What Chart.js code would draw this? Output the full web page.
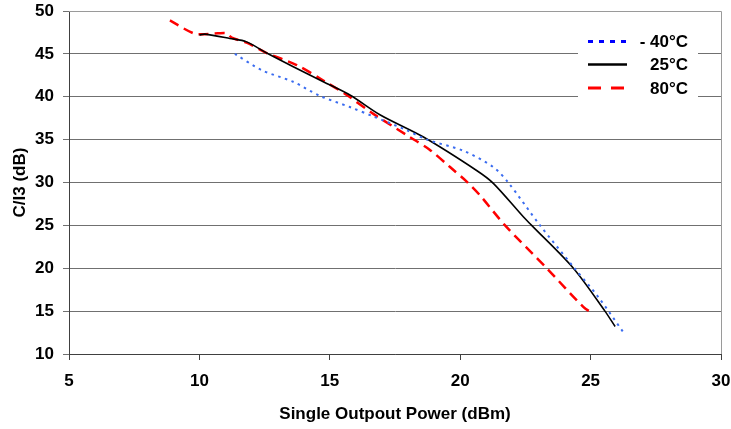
<!DOCTYPE html>
<html>
<head>
<meta charset="utf-8">
<script src="https://cdn.jsdelivr.net/npm/chart.js@4.4.1/dist/chart.umd.min.js"></script>
<style>
html,body{margin:0;padding:0;background:#fff;}
#wrap{width:731px;height:429px;position:relative;}
</style>
</head>
<body>
<div id="wrap"><canvas id="c" width="731" height="429"></canvas></div>
<script>
const seriesLabels = ['- 40°C', '25°C', '80°C'];
const xTicks = [5, 10, 15, 20, 25, 30];
const yTicks = [10, 15, 20, 25, 30, 35, 40, 45, 50];

const coldX = [11.36, 12.39, 13.59, 14.62, 15.77, 16.67, 17.95, 18.72, 20.12, 21.27, 21.84, 23.06, 24.33, 25.28, 26.24];
const coldY = [45.0, 43.1, 41.75, 40.1, 38.8, 37.7, 36.1, 35.0, 33.7, 31.8, 30.0, 25.0, 20.2, 16.7, 12.6];

const roomX = [10.0, 10.21, 11.17, 11.81, 12.58, 13.60, 14.75, 15.77, 16.92, 18.59, 20.63, 21.27, 22.42, 22.74, 24.34, 25.55, 25.94];
const roomY = [47.2, 47.3, 46.8, 46.4, 45.1, 43.5, 41.75, 40.2, 37.9, 35.3, 31.4, 29.9, 26.0, 25.0, 20.0, 15.0, 13.2];

const hotX = [8.87, 9.77, 10.21, 10.71, 11.05, 11.24, 11.81, 12.58, 13.73, 14.75, 15.65, 16.67, 18.07, 18.84, 19.61, 20.25, 20.76, 21.72, 23.32, 24.72, 25.1];
const hotY = [48.9, 47.4, 47.3, 47.4, 47.4, 46.9, 46.3, 45.1, 43.7, 41.9, 40.2, 38.0, 35.3, 33.8, 31.8, 30.1, 28.5, 25.0, 20.0, 15.5, 14.7];

function pts(xs, ys){ return xs.map((x,i)=>({x:x, y:ys[i]})); }

const FONT = "'Liberation Sans', Arial, sans-serif";

const styles = [
  {color:'#3a6cf0', legendColor:'#0000ff', dash:[2.5,4.5], width:2},
  {color:'#000000', legendColor:'#000000', dash:[], width:1.6},
  {color:'#ff0000', legendColor:'#ff0000', dash:[10,6], width:2.5}
];

const frameLegend = {
  id:'frameLegend',
  afterDatasetsDraw(chart){
    const {ctx, chartArea:a} = chart;
    ctx.save();
    ctx.strokeStyle = '#9a9a9a';
    ctx.lineWidth = 1;
    ctx.beginPath();
    ctx.moveTo(a.left, a.top + 0.5);
    ctx.lineTo(a.right + 0.5, a.top + 0.5);
    ctx.lineTo(a.right + 0.5, a.bottom);
    ctx.stroke();
    ctx.fillStyle = '#ffffff';
    ctx.fillRect(578, 27, 120, 73);
    const rows = [41.5, 64.5, 88];
    ctx.font = "bold 17px " + FONT;
    ctx.textAlign = 'right';
    ctx.textBaseline = 'middle';
    seriesLabels.forEach((lab, i)=>{
      const s = styles[i];
      ctx.strokeStyle = s.legendColor;
      ctx.lineWidth = i===1 ? 2.5 : 3;
      ctx.setLineDash(i===0 ? [5,6] : (i===2 ? [13,10] : []));
      ctx.beginPath();
      ctx.moveTo(588, rows[i]);
      ctx.lineTo(627, rows[i]);
      ctx.stroke();
      ctx.setLineDash([]);
      ctx.fillStyle = '#000';
      ctx.fillText(lab, 688, rows[i] + 1);
    });
    ctx.restore();
  }
};

new Chart(document.getElementById('c'), {
  type:'scatter',
  data:{
    datasets:[
      {label:seriesLabels[0], data:pts(coldX, coldY)},
      {label:seriesLabels[1], data:pts(roomX, roomY)},
      {label:seriesLabels[2], data:pts(hotX, hotY)}
    ].map((d,i)=>Object.assign(d, {
      showLine:true, pointRadius:0, borderColor:styles[i].color,
      borderDash:styles[i].dash, borderWidth:styles[i].width, tension:0.3, fill:false
    }))
  },
  options:{
    responsive:false, animation:false,
    layout:{padding:{top:11, right:10, left:0, bottom:0}},
    plugins:{legend:{display:false}, tooltip:{enabled:false}},
    scales:{
      x:{
        type:'linear', min:5, max:30,
        afterBuildTicks(ax){ ax.ticks = xTicks.map(v=>({value:v})); },
        afterFit(ax){ ax.height = 75; ax.paddingLeft = 0; ax.paddingRight = 0; },
        grid:{drawOnChartArea:false, drawTicks:true, tickLength:6, color:'#404040'},
        border:{color:'#404040', width:1},
        ticks:{color:'#000', font:{family:FONT, size:17, weight:'bold'}, padding:11, maxRotation:0},
        title:{display:true, text:'Single Outpout Power (dBm)', color:'#000', font:{family:FONT, size:17, weight:'bold'}, padding:{top:4, bottom:4}}
      },
      y:{
        type:'linear', min:10, max:50,
        afterBuildTicks(ax){ ax.ticks = yTicks.map(v=>({value:v})); },
        afterFit(ax){ ax.width = 69; ax.paddingTop = 0; ax.paddingBottom = 0; },
        grid:{color:'#707070', lineWidth:1, tickLength:6},
        border:{color:'#404040', width:1},
        ticks:{color:'#000', font:{family:FONT, size:17, weight:'bold'}, padding:9},
        title:{display:true, text:'C/I3 (dB)', color:'#000', font:{family:FONT, size:17, weight:'bold'}, padding:{top:10, bottom:0}}
      }
    }
  },
  plugins:[frameLegend]
});
</script>
</body>
</html>
